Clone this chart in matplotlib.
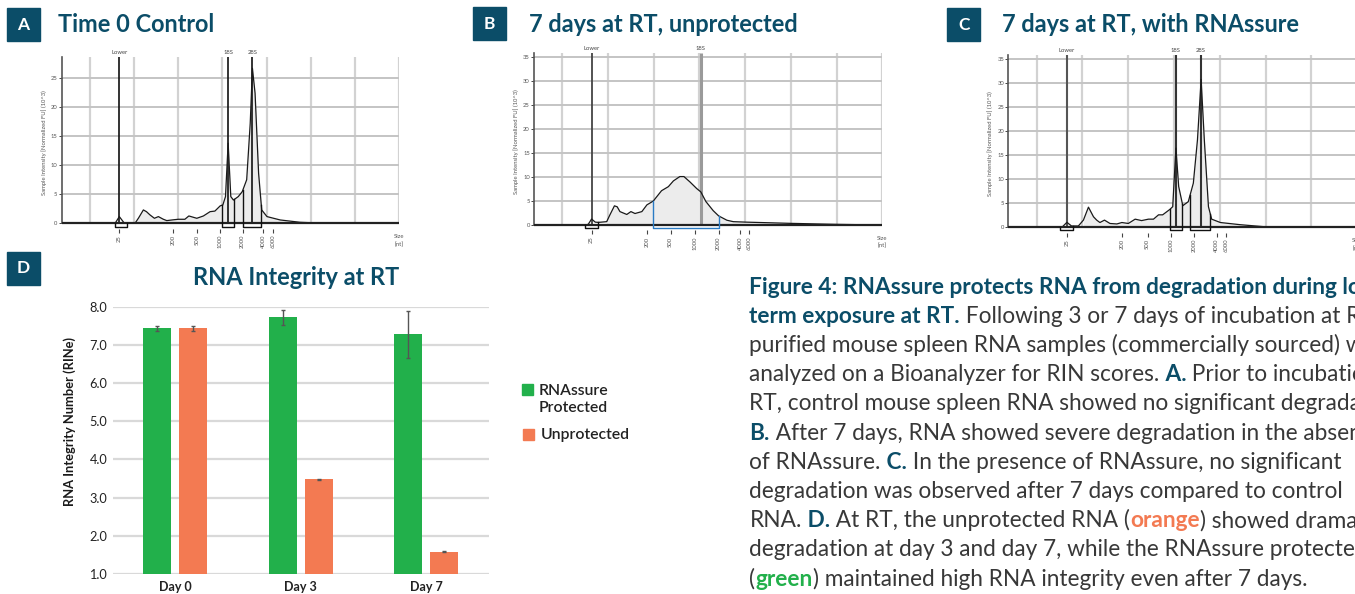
import numpy as np
import matplotlib
matplotlib.use('Agg')
import matplotlib.pyplot as plt
from matplotlib.patches import Rectangle

plt.rcParams['font.family'] = ['Lato', 'DejaVu Sans']

W, H = 1355, 594
TEAL = '#0b4d68'
GREEN = '#22b04b'
ORANGE = '#f37a52'
BODY = '#383838'

# electropherogram traces: x in grid columns (migration), y = FU (10^3)
a_pos = [-0.64, 0.53, 0.57, 0.665, 0.77, 0.83, 1.02, 1.10, 1.21, 1.28, 1.36, 1.46, 1.55, 1.66, 1.74, 1.89,
         2.0, 2.15, 2.24, 2.42, 2.57, 2.72, 2.83, 2.95, 3.01, 3.07, 3.13, 3.19, 3.25, 3.36, 3.45, 3.55, 3.63,
         3.68, 3.74, 3.82, 3.89, 4.01, 4.31, 4.76, 5.14, 7.0]
a_fu = [0, 0, 0, 1.15, 0.1, 0, 0, 0.9, 2.3, 2.0, 1.44, 0.86, 1.15, 0.7, 0.46, 0.6,
        0.69, 0.69, 1.26, 0.86, 1.26, 2.0, 2.1, 3.0, 3.16, 4.6, 13.8, 4.6, 4.0, 4.6, 5.46, 7.5, 17.2,
        26.7, 22.4, 8.6, 2.3, 1.15, 0.57, 0.17, 0.05, 0]
b_pos = [-0.62, 0.53, 0.57, 0.64, 0.72, 0.79, 0.97, 1.04, 1.14, 1.2, 1.26, 1.41, 1.5, 1.59, 1.74, 1.85, 1.99,
         2.17, 2.32, 2.43, 2.57, 2.66, 2.79, 2.94, 3.03, 3.14, 3.30, 3.42, 3.6, 3.74, 4.03, 4.98, 6.0, 7.0]
b_fu = [0, 0, 0.2, 1.25, 0.6, 0.55, 0.7, 2.1, 4.0, 3.8, 2.8, 2.2, 2.8, 2.4, 2.8, 4.2, 5.0,
        7.15, 8.0, 9.2, 10.1, 10.1, 9.0, 7.6, 6.9, 4.9, 3.0, 1.9, 1.0, 0.7, 0.6, 0.35, 0.14, 0]
c_pos = [-0.62, 0.51, 0.55, 0.66, 0.76, 0.91, 1.02, 1.13, 1.24, 1.31, 1.38, 1.48, 1.60, 1.75, 1.86,
         2.0, 2.15, 2.29, 2.44, 2.55, 2.66, 2.75, 2.91, 2.97, 3.04, 3.10, 3.19, 3.31, 3.42, 3.51, 3.59,
         3.66, 3.75, 3.82, 4.01, 4.44, 4.95, 6.92, 7.0]
c_fu = [0, 0, 0, 1.04, 0.28, 0.28, 1.5, 4.2, 2.2, 1.5, 1.0, 1.5, 0.8, 0.7, 1.0,
        0.8, 1.7, 1.4, 1.7, 1.7, 2.6, 2.6, 3.75, 4.3, 16.5, 8.5, 4.5, 5.35, 9.2, 18.2, 30.8,
        18.2, 4.3, 1.7, 1.0, 0.55, 0.14, 0, 0]

size_labels = ['25', '200', '500', '1000', '2000', '4000', '6000']
a_ticks = [0.66, 1.88, 2.42, 2.95, 3.46, 3.93, 4.14]
b_ticks = [0.64, 1.85, 2.37, 2.91, 3.42, 3.89, 4.08]
c_ticks = [0.66, 1.87, 2.42, 2.93, 3.44, 3.93, 4.13]

a_marks, a_names = [0.665, 3.13, 3.68], ['Lower', '18S', '28S']
b_marks, b_names = [0.64, 3.03], ['Lower', '18S']
c_marks, c_names = [0.66, 3.04, 3.59], ['Lower', '18S', '28S']

a_brackets = [(0.57, 0.83), (3.0, 3.27), (3.46, 3.88)]
b_brackets = [(0.5, 0.79), (1.99, 3.42)]
c_brackets = [(0.51, 0.80), (2.91, 3.18), (3.35, 3.79)]

# RIN bar chart
days = ['Day 0', 'Day 3', 'Day 7']
rin_protected = [7.43, 7.72, 7.28]
rin_protected_err = [0.065, 0.2, 0.62]
rin_unprotected = [7.43, 3.48, 1.58]
rin_unprotected_err = [0.06, 0.01, 0.01]

caption_lines = [
    [("Figure 4: RNAssure protects RNA from degradation during long-", 'key')],
    [("term exposure at RT.", 'key'), (" Following 3 or 7 days of incubation at RT,", 'body')],
    [("purified mouse spleen RNA samples (commercially sourced) were", 'body')],
    [("analyzed on a Bioanalyzer for RIN scores.", 'body'), (" A.", 'key'), (" Prior to incubation at", 'body')],
    [("RT, control mouse spleen RNA showed no significant degradation.", 'body')],
    [("B.", 'key'), (" After 7 days, RNA showed severe degradation in the absence", 'body')],
    [("of RNAssure.", 'body'), (" C.", 'key'), (" In the presence of RNAssure, no significant", 'body')],
    [("degradation was observed after 7 days compared to control", 'body')],
    [("RNA.", 'body'), (" D.", 'key'), (" At RT, the unprotected RNA (", 'body'), ("orange", 'orange'),
     (") showed dramatic", 'body')],
    [("degradation at day 3 and day 7, while the RNAssure protected RNA", 'body')],
    [("(", 'body'), ("green", 'green'), (") maintained high RNA integrity even after 7 days.", 'body')],
]
styles = {'body': (BODY, 'normal'), 'key': (TEAL, 'bold'), 'orange': (ORANGE, 'bold'), 'green': (GREEN, 'bold')}


def fbox(x0, y0, x1, y1):
    return [x0 / W, 1 - y1 / H, (x1 - x0) / W, (y1 - y0) / H]


fig = plt.figure(figsize=(W / 100, H / 100), dpi=100)
renderer = fig.canvas.get_renderer()


def fit_size(text, target_px, **kw):
    t = fig.text(0, 0, text, fontsize=10, **kw)
    w = t.get_window_extent(renderer).width
    t.remove()
    return 10 * target_px / w


def electropherogram(rect, xlo, ymin, ymax, yticks, pos, fu, fill_span, ticks, marks, names,
                     mark_colors, mark_widths, brackets, bracket_colors):
    ax = fig.add_axes(rect)
    pos = np.array(pos)
    fu = np.array(fu)
    ax.set_xlim(xlo, 7.0)
    ax.set_ylim(ymin, ymax)
    ax.vlines(np.arange(8), 0, ymax, color='#d2d2d2', lw=1.6, zorder=0)
    ax.hlines(yticks[1:], xlo, 7.0, color='#c4c4c4', lw=1.4, zorder=0)
    ax.fill_between(pos, fu, where=(pos >= fill_span[0]) & (pos <= fill_span[1]),
                    color='#ececec', lw=0, zorder=1)
    ax.vlines(marks, 0, ymax, colors=mark_colors, lw=mark_widths, zorder=2)
    ax.plot(pos, fu, color='#1a1a1a', lw=0.9, zorder=3)
    ax.hlines(0, xlo, 7.0, color='#222222', lw=1.6, zorder=3)
    for (lo, hi), col in zip(brackets, bracket_colors):
        ax.plot([lo, lo, hi, hi], [np.interp(lo, pos, fu), -0.57, -0.57, np.interp(hi, pos, fu)],
                color=col, lw=1.0, clip_on=False, zorder=4)
    for m, name in zip(marks, names):
        ax.annotate(name, (m, ymax), xytext=(0, 1.5), textcoords='offset points',
                    ha='center', va='bottom', fontsize=4.2, color='#444444')
    ax.annotate('Size\n[nt]', (7.0, ymin), xytext=(0, -4), textcoords='offset points',
                ha='center', va='top', fontsize=4.2, color='#555555', linespacing=1.6)
    for s in ['top', 'right', 'bottom']:
        ax.spines[s].set_visible(False)
    ax.spines['left'].set_bounds(0, ymax)
    ax.spines['left'].set_color('#555555')
    ax.spines['left'].set_linewidth(1.2)
    ax.set_yticks(yticks)
    ax.set_xticks(ticks)
    ax.set_xticklabels(size_labels, rotation=90)
    ax.tick_params(axis='x', length=3, width=0.8, color='#444444', labelsize=4.2, pad=1.5,
                   labelcolor='#555555')
    ax.tick_params(axis='y', length=2, width=0.7, color='#444444', labelsize=4.2, pad=1,
                   labelcolor='#555555')
    ax.set_ylabel('Sample Intensity [Normalized FU] (10^3)', fontsize=4.2, color='#555555', labelpad=3)
    return ax


electropherogram(fbox(61.7, 57.3, 399, 228.5), -0.64, -0.9, 28.6, np.arange(0, 26, 5),
                 a_pos, a_fu, (1.0, 5.2), a_ticks, a_marks, a_names,
                 ['#111111'] * 3, [1.2] * 3, a_brackets, ['#111111'] * 3)
electropherogram(fbox(534, 53.3, 882.3, 230.3), -0.62, -1.1, 35.8, np.arange(0, 36, 5),
                 b_pos, b_fu, (0.95, 6.05), b_ticks, b_marks, b_names,
                 ['#444444', '#9a9a9a'], [1.3, 2.2], b_brackets, ['#111111', '#2a7bc4'])
electropherogram(fbox(1008.3, 55, 1357.3, 232.6), -0.62, -1.1, 35.9, np.arange(0, 36, 5),
                 c_pos, c_fu, (0.95, 5.0), c_ticks, c_marks, c_names,
                 ['#555555', '#333333', '#333333'], [1.5, 1.5, 1.5], c_brackets, ['#111111'] * 3)

# panel D bars
axd = fig.add_axes(fbox(112.7, 306.7, 488.7, 574))
x = np.arange(len(days))
ekw = dict(ecolor='#555555', elinewidth=1.0, capsize=1.7, capthick=1.0)
axd.bar(x - 0.144, rin_protected, 0.224, yerr=rin_protected_err, color=GREEN, error_kw=ekw, zorder=2)
axd.bar(x + 0.144, rin_unprotected, 0.224, yerr=rin_unprotected_err, color=ORANGE, error_kw=ekw, zorder=2)
axd.set_xlim(-0.5, 2.5)
axd.set_ylim(1.0, 8.0)
axd.set_yticks(np.arange(1, 9))
axd.set_yticklabels([f'{v:.1f}' for v in np.arange(1, 9)])
axd.set_xticks(x)
axd.set_xticklabels(days, fontweight='bold')
axd.yaxis.grid(True, color='#d9d9d9', lw=1.6)
axd.set_axisbelow(True)
for s in axd.spines.values():
    s.set_visible(False)
axd.tick_params(axis='y', length=0, labelsize=9.2, pad=4, labelcolor='#222222')
axd.tick_params(axis='x', length=0, labelsize=9, pad=5, labelcolor='#222222')
fig.text(70 / W, 1 - 422 / H, 'RNA Integrity Number (RINe)', rotation=90, ha='center', va='center',
         fontsize=fit_size('RNA Integrity Number (RINe)', 170, fontweight='bold'), fontweight='bold',
         color='#1a1a1a')

# legend for panel D
leg_fs = fit_size('Unprotected', 88.7, fontweight='semibold')
fig.patches.append(Rectangle((522 / W, 1 - 395 / H), 11 / W, 11 / H, transform=fig.transFigure,
                             color=GREEN))
fig.patches.append(Rectangle((523 / W, 1 - 440 / H), 11 / W, 11 / H, transform=fig.transFigure,
                             color=ORANGE))
fig.text(539 / W, 1 - 395.3 / H, 'RNAssure', fontsize=leg_fs, fontweight='semibold', color='#222222',
         va='baseline')
fig.text(539 / W, 1 - 412.3 / H, 'Protected', fontsize=leg_fs, fontweight='semibold', color='#222222',
         va='baseline')
fig.text(540.3 / W, 1 - 439.5 / H, 'Unprotected', fontsize=leg_fs, fontweight='semibold',
         color='#222222', va='baseline')

# panel letters and titles
title_fs = fit_size('7 days at RT, with RNAssure', 298, fontweight='bold')
panels = [('A', (7.3, 8.3, 40, 40.7), 'Time 0 Control', 58, 31.7),
          ('B', (473.3, 7.3, 505.7, 40), '7 days at RT, unprotected', 529, 31.5),
          ('C', (947.3, 8.3, 980, 40.7), '7 days at RT, with RNAssure', 1001.7, 32.5),
          ('D', (7.3, 251.7, 40, 284.7), None, None, None)]
for letter, (x0, y0, x1, y1), title, tx, ty in panels:
    fig.patches.append(Rectangle((x0 / W, 1 - y1 / H), (x1 - x0) / W, (y1 - y0) / H,
                                 transform=fig.transFigure, color=TEAL))
    fig.text((x0 + x1) / 2 / W, 1 - (y0 + y1) / 2 / H, letter, ha='center', va='center',
             color='white', fontsize=12.5, fontweight='bold')
    if title:
        fig.text(tx / W, 1 - ty / H, title, fontsize=title_fs, fontweight='bold', color=TEAL,
                 va='baseline')
fig.text(295.8 / W, 1 - 285 / H, 'RNA Integrity at RT', ha='center', va='baseline',
         fontsize=title_fs, fontweight='bold', color=TEAL)

# caption with mixed styling (the block runs past the right edge, as in the source crop)
cap_fs = fit_size(caption_lines[7][0][0], 596)
for i, parts in enumerate(caption_lines):
    xpix = 749.5
    ypix = 293.5 + 29.2 * i
    for txt, st in parts:
        col, wt = styles[st]
        t = fig.text(xpix / W, 1 - ypix / H, txt, fontsize=cap_fs, color=col, fontweight=wt,
                     va='baseline', ha='left')
        xpix += t.get_window_extent(renderer).width

fig.savefig('out.png', dpi=100)
